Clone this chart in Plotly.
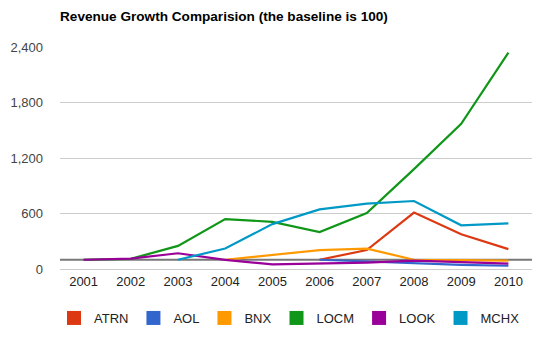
import plotly.graph_objects as go

years = ["2001", "2002", "2003", "2004", "2005", "2006", "2007", "2008", "2009", "2010"]
series_names = ["ATRN", "AOL", "BNX", "LOCM", "LOOK", "MCHX"]
atrn = [None, None, None, None, None, 100, 205, 610, 375, 215]
aol = [None, None, None, None, None, 100, 80, 60, 45, 35]
bnx = [None, None, None, 100, 150, 205, 220, 100, 95, 90]
locm = [100, 110, 250, 540, 510, 400, 605, 1080, 1570, 2340]
look = [100, 112, 170, 98, 50, 60, 70, 90, 75, 58]
mchx = [None, None, 100, 222, 485, 645, 706, 735, 472, 494]
baseline_value = 100
y_ticks = [0, 600, 1200, 1800, 2400]

colors = ["#dc3912", "#3366cc", "#ff9900", "#109618", "#990099", "#0099c6"]
all_series = [atrn, aol, bnx, locm, look, mchx]

fig = go.Figure()
for name, vals, col in zip(series_names, all_series, colors):
    fig.add_trace(go.Scatter(x=years, y=vals, mode="lines", name=name,
                             line=dict(color=col, width=2.2), showlegend=False,
                             legendgroup=name, connectgaps=False))
for name, col in zip(series_names, colors):
    fig.add_trace(go.Scatter(x=[None], y=[None], mode="markers", name=name,
                             marker=dict(symbol="square", size=14, color=col),
                             legendgroup=name, showlegend=True))

fig.add_shape(type="line", xref="paper", x0=0, x1=1, yref="y",
              y0=baseline_value, y1=baseline_value,
              line=dict(color="#777777", width=2.2), layer="between")

fig.update_layout(
    width=551, height=350,
    margin=dict(l=60, r=19, t=47, b=81, autoexpand=False),
    paper_bgcolor="white", plot_bgcolor="white",
    font=dict(family="Arial, Liberation Sans, sans-serif", size=13, color="#444444"),
    title=dict(text="<b>Revenue Growth Comparision (the baseline is 100)</b>",
               x=60/551, xanchor="left", xref="container",
               y=1 - 16/350, yanchor="middle", yref="container",
               font=dict(size=13.6, color="#000000")),
    xaxis=dict(type="category", range=[-0.5, 9.5], showgrid=False, zeroline=False,
               showline=False, ticks="", ticklabelstandoff=3,
               tickfont=dict(size=13, color="#222222")),
    yaxis=dict(range=[0, 2400], tickvals=y_ticks, tickformat=",", showgrid=True,
               gridcolor="#cccccc", gridwidth=1, zeroline=True, zerolinecolor="#cccccc",
               zerolinewidth=1, showline=False, ticks="", ticklabelstandoff=16,
               tickfont=dict(size=13, color="#444444")),
    legend=dict(orientation="h", xref="container", x=54/551, xanchor="left",
                yref="container", y=1 - 318/350, yanchor="middle",
                font=dict(size=13, color="#222222"), itemwidth=30,
                traceorder="normal", bgcolor="rgba(0,0,0,0)"),
    showlegend=True,
)

fig.write_html("out.html")
